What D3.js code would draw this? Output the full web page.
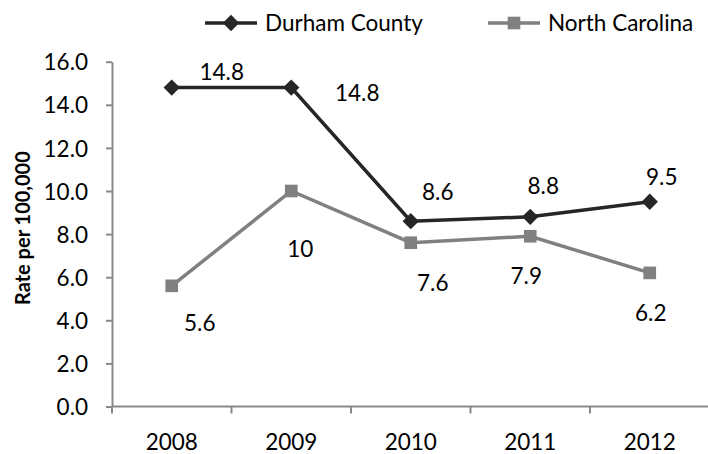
<!DOCTYPE html>
<html>
<head>
<meta charset="utf-8">
<script src="https://cdn.jsdelivr.net/npm/d3@7"></script>
<style>
  body { margin: 0; background: #fff; }
  svg text { font-family: Lato, "Open Sans", sans-serif; fill: #000; }
</style>
</head>
<body>
<svg id="chart_svg"></svg>
<script>
var years = ['2008', '2009', '2010', '2011', '2012'];
var durham = [14.8, 14.8, 8.6, 8.8, 9.5];
var northCarolina = [5.6, 10, 7.6, 7.9, 6.2];
var durhamLabels = ['14.8', '14.8', '8.6', '8.8', '9.5'];
var ncLabels = ['5.6', '10', '7.6', '7.9', '6.2'];
var yTicks = [0, 2, 4, 6, 8, 10, 12, 14, 16];

// label offsets from each point (px), as placed in the original
var durhamOffsets = [[50, -16], [66, 5], [27, -29], [13, -31], [12, -25]];
var ncOffsets = [[28, 37], [9, 58], [22, 40], [-4, 40], [1, 40]];

var W = 708, H = 454;
var margin = {top: 61.7, right: -1.5, bottom: 47.5, left: 112};
var width = W - margin.left - margin.right;
var height = H - margin.top - margin.bottom;

var fontSize = '22.5px';
var axisColor = '#898989';
var durhamColor = '#262626';
var ncColor = '#808080';

var svg = d3.select('#chart_svg')
  .attr('width', W)
  .attr('height', H);

var g = svg.append('g')
  .attr('transform', 'translate(' + margin.left + ',' + margin.top + ')');

var x = d3.scaleBand()
  .domain(years)
  .range([0, width])
  .padding(0);

var y = d3.scaleLinear()
  .domain([0, 16])
  .range([height, 0]);

function cx(i) { return x(years[i]) + x.bandwidth() / 2; }

// y axis
var yAxis = d3.axisLeft(y)
  .tickValues(yTicks)
  .tickSize(6)
  .tickSizeOuter(0)
  .tickPadding(18)
  .tickFormat(d3.format('.1f'));

var yAxisGroup = g.append('g')
  .attr('class', 'axis y')
  .call(yAxis);

yAxisGroup.select('.domain').attr('stroke', axisColor).attr('stroke-width', 2);
yAxisGroup.selectAll('.tick line').attr('stroke', axisColor).attr('stroke-width', 2);
yAxisGroup.selectAll('.tick text')
  .style('font-size', fontSize)
  .attr('dy', '0.36em');

// x axis
var xAxisGroup = g.append('g')
  .attr('class', 'axis x')
  .attr('transform', 'translate(0,' + height + ')');

xAxisGroup.append('line')
  .attr('x1', 0)
  .attr('x2', width)
  .attr('stroke', axisColor)
  .attr('stroke-width', 2);

xAxisGroup.selectAll('.xtick')
  .data(years)
  .enter()
  .append('line')
  .attr('class', 'xtick')
  .attr('x1', function(d) { return x(d); })
  .attr('x2', function(d) { return x(d); })
  .attr('y1', 0)
  .attr('y2', 7)
  .attr('stroke', axisColor)
  .attr('stroke-width', 2);

xAxisGroup.selectAll('.xlabel')
  .data(years)
  .enter()
  .append('text')
  .attr('class', 'xlabel')
  .attr('x', function(d) { return x(d) + x.bandwidth() / 2; })
  .attr('y', 43.5)
  .style('text-anchor', 'middle')
  .style('font-size', fontSize)
  .text(function(d) { return d; });

// lines
var line = d3.line()
  .x(function(d, i) { return cx(i); })
  .y(function(d) { return y(d); });

g.append('path')
  .datum(northCarolina)
  .attr('d', line)
  .attr('fill', 'none')
  .attr('stroke', ncColor)
  .attr('stroke-width', 3.5);

g.append('path')
  .datum(durham)
  .attr('d', line)
  .attr('fill', 'none')
  .attr('stroke', durhamColor)
  .attr('stroke-width', 3.5);

// markers
var diamond = d3.symbol().type(d3.symbolDiamond2).size(170);
var square = d3.symbol().type(d3.symbolSquare).size(160);

g.selectAll('.nc-dot')
  .data(northCarolina)
  .enter()
  .append('path')
  .attr('class', 'nc-dot')
  .attr('d', square)
  .attr('transform', function(d, i) { return 'translate(' + cx(i) + ',' + y(d) + ')'; })
  .attr('fill', ncColor);

g.selectAll('.durham-dot')
  .data(durham)
  .enter()
  .append('path')
  .attr('class', 'durham-dot')
  .attr('d', diamond)
  .attr('transform', function(d, i) { return 'translate(' + cx(i) + ',' + y(d) + ')'; })
  .attr('fill', durhamColor);

// data labels
g.selectAll('.durham-label')
  .data(durham)
  .enter()
  .append('text')
  .attr('class', 'durham-label')
  .attr('x', function(d, i) { return cx(i) + durhamOffsets[i][0]; })
  .attr('y', function(d, i) { return y(d) + durhamOffsets[i][1]; })
  .attr('dy', '0.36em')
  .style('text-anchor', 'middle')
  .style('font-size', fontSize)
  .text(function(d, i) { return durhamLabels[i]; });

g.selectAll('.nc-label')
  .data(northCarolina)
  .enter()
  .append('text')
  .attr('class', 'nc-label')
  .attr('x', function(d, i) { return cx(i) + ncOffsets[i][0]; })
  .attr('y', function(d, i) { return y(d) + ncOffsets[i][1]; })
  .attr('dy', '0.36em')
  .style('text-anchor', 'middle')
  .style('font-size', fontSize)
  .text(function(d, i) { return ncLabels[i]; });

// y axis title
svg.append('text')
  .attr('transform', 'translate(23,' + (margin.top + height / 2 - 6) + ') rotate(-90)')
  .attr('dy', '0.36em')
  .style('text-anchor', 'middle')
  .style('font-size', '20px')
  .style('font-weight', 'bold')
  .text('Rate per 100,000');

// legend
var legend = svg.append('g').attr('class', 'legend');
var legendItems = [
  {name: 'Durham County', color: durhamColor, sym: diamond, x: 205},
  {name: 'North Carolina', color: ncColor, sym: square, x: 488}
];

legendItems.forEach(function(item) {
  var lg = legend.append('g').attr('transform', 'translate(' + item.x + ',23)');
  lg.append('line')
    .attr('x1', 0).attr('x2', 52)
    .attr('stroke', item.color)
    .attr('stroke-width', 3.5);
  lg.append('path')
    .attr('d', item.sym)
    .attr('transform', 'translate(26,0)')
    .attr('fill', item.color);
  lg.append('text')
    .attr('x', 60)
    .attr('dy', '0.36em')
    .style('font-size', fontSize)
    .text(item.name);
});
</script>
</body>
</html>
